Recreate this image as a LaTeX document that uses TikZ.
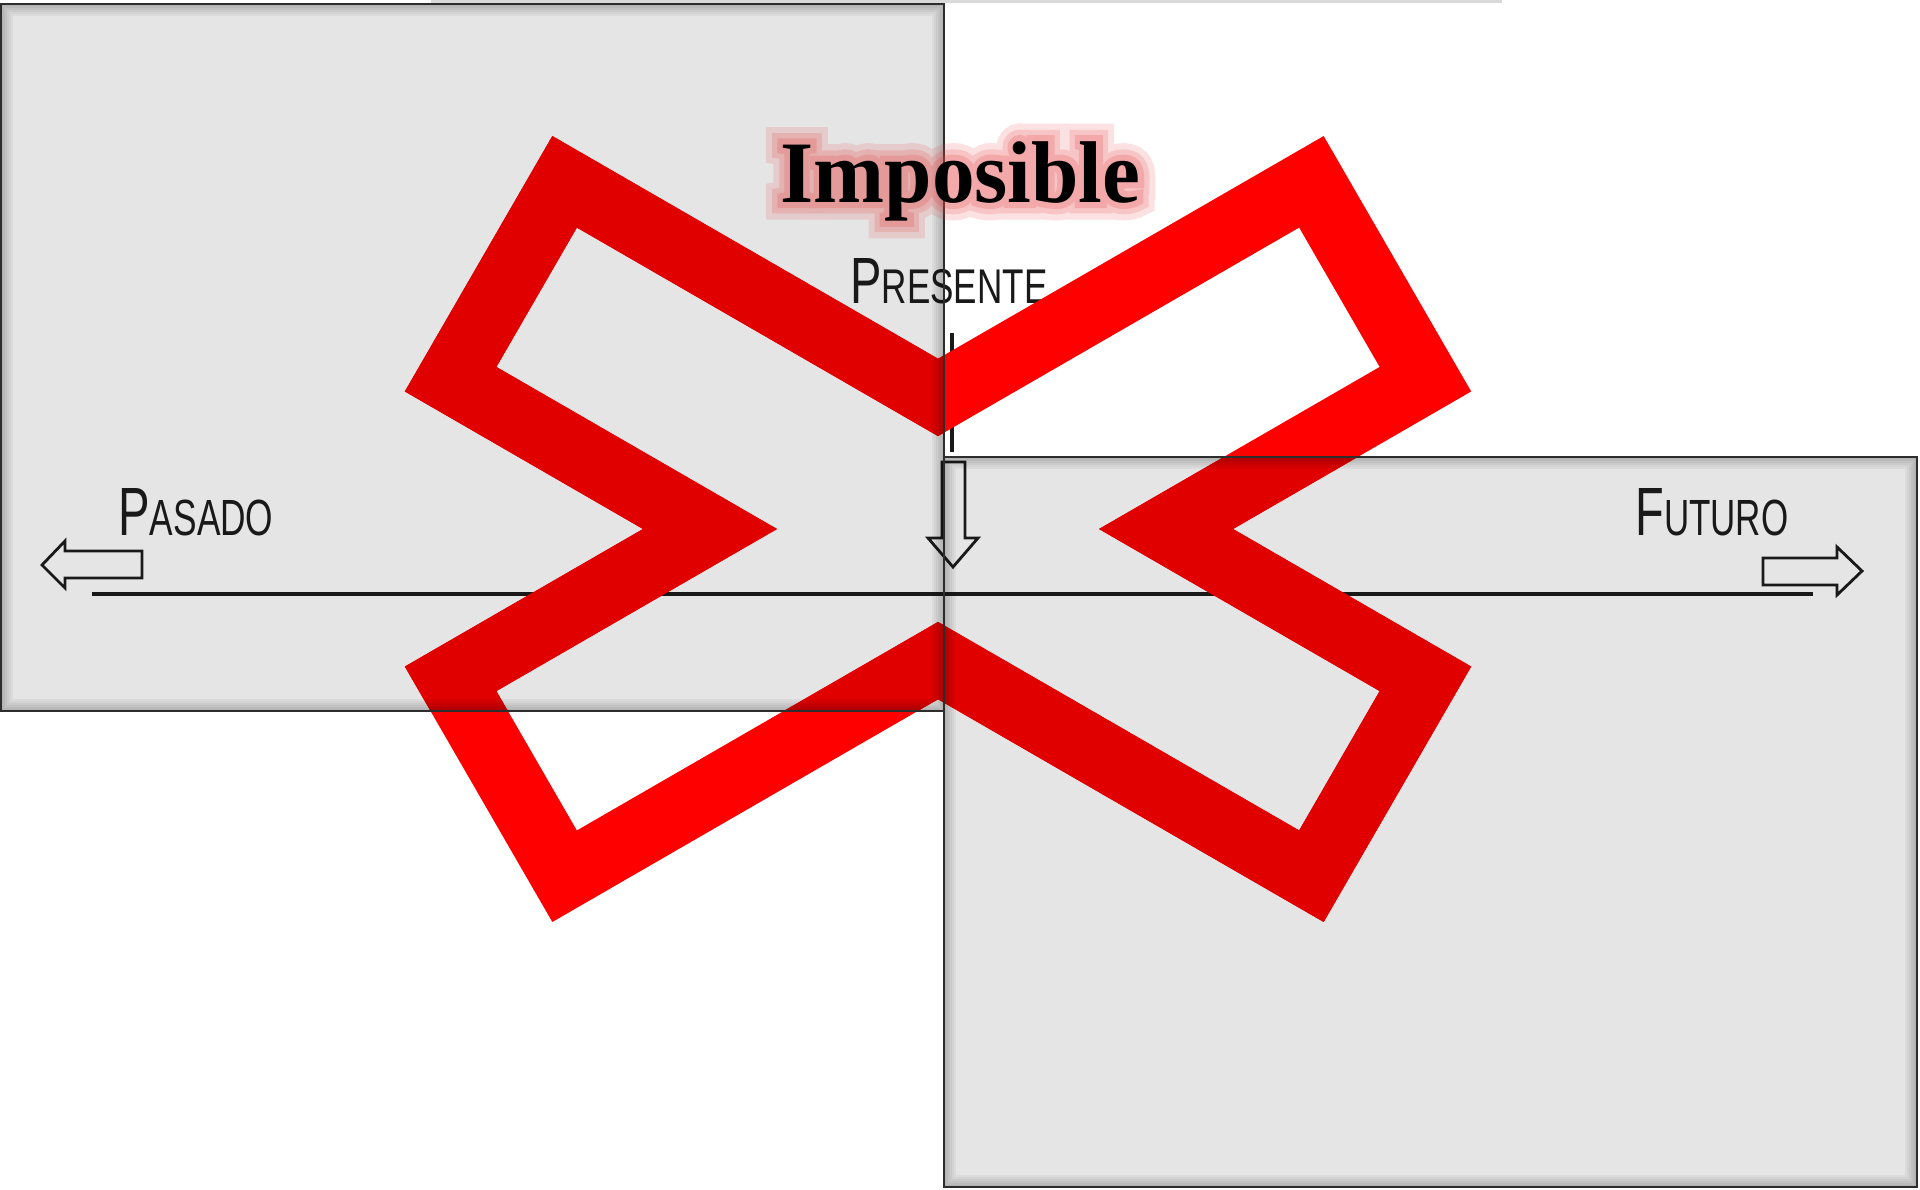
\documentclass[tikz,border=0pt]{standalone}
\usepackage{fontspec}
\setmainfont{Liberation Serif}
\newfontfamily\lblfont{Liberation Sans}
\newfontfamily\glowA[BoldFeatures={FakeBold=14}]{Liberation Serif}
\newfontfamily\glowB[BoldFeatures={FakeBold=26}]{Liberation Serif}
\newfontfamily\glowC[BoldFeatures={FakeBold=40}]{Liberation Serif}
\definecolor{panel}{RGB}{229,229,229}
\definecolor{xred}{RGB}{255,0,0}
\definecolor{xdark}{RGB}{224,0,0}
\definecolor{edge}{RGB}{45,45,45}
\definecolor{ink}{RGB}{25,25,25}
\definecolor{glowc}{RGB}{230,60,60}
\newcommand\impword[1]{\resizebox{180pt}{30.4pt}{#1\bfseries Imposible}}
\newcommand\lblsc[2]{{\lblfont\fontsize{20}{24}\selectfont #1\fontsize{14.9}{18}\selectfont #2}}
\newcommand\insetshadow[4]{%
  \foreach \i in {0,...,5}{%
    \pgfmathsetmacro\op{0.22-0.035*\i}%
    \draw[black,opacity=\op,line width=1pt] ({#1+1+2*\i},{#2+1+2*\i}) rectangle ({#3-1-2*\i},{#4-1-2*\i});}}
\begin{document}
\begin{tikzpicture}[x=0.5pt,y=-0.5pt,
  panelbox/.style={fill=panel},
  panelrim/.style={draw=edge,line width=1pt},
  xband/.style={line width=33.5pt,line join=miter,miter limit=10},
  outlinearrow/.style={draw=ink,line width=1.4pt,line join=miter},
  axisline/.style={draw=ink,line width=2.4pt},
  label/.style={inner sep=0pt,anchor=base west,text=ink},
  imptext/.style={inner sep=0pt,anchor=base west}]
\useasboundingbox (0,0) rectangle (1920,1189);
\fill[white] (0,0) rectangle (1920,1189);
% faint shadow at top
\fill[gray!30] (431,0) rectangle (1502,2.5);
% panels
\fill[panelbox] (1,4) rectangle (944,711);
\fill[panelbox] (944,457) rectangle (1917,1187);
% axis
\coordinate (axL) at (92,594);
\coordinate (axR) at (1813,594);
\draw[axisline] (axL) -- (axR);
% outline arrows
\draw[outlinearrow] (42,565) -- (65,541) -- (65,551) -- (142,551) -- (142,578) -- (65,578) -- (65,588) -- cycle;
\draw[outlinearrow] (1862,571) -- (1837,547) -- (1837,558) -- (1763,558) -- (1763,585) -- (1837,585) -- (1837,595) -- cycle;
\draw[outlinearrow] (953,567) -- (978,538) -- (965,538) -- (965,462) -- (942,462) -- (942,538) -- (928,538) -- cycle;
% tick
\coordinate (tkA) at (952,333);
\coordinate (tkB) at (952,452);
\draw[ink,line width=2.4pt] (tkA) -- (tkB);
% labels
\node[label] (pasado) at (118,535) {\resizebox{77.5pt}{23.5pt}{\lblsc{P}{ASADO}}};
\node[label] (futuro) at (1635,535) {\resizebox{76.5pt}{23.5pt}{\lblsc{F}{UTURO}}};
\node[label] (presente) at (850,303) {\resizebox{98.5pt}{22.5pt}{\lblsc{P}{RESENTE}}};
% red X
\coordinate (x1) at (564.6,181.8);
\coordinate (x2) at (938,397.4);
\coordinate (x3) at (1311.4,181.8);
\coordinate (x4) at (1425.4,379.2);
\coordinate (x5) at (1166,529);
\coordinate (x6) at (1425.4,678.8);
\coordinate (x7) at (1311.4,876.2);
\coordinate (x8) at (938,660.6);
\coordinate (x9) at (564.6,876.2);
\coordinate (x10) at (450.6,678.8);
\coordinate (x11) at (710,529);
\coordinate (x12) at (450.6,379.2);
\draw[xband,draw=xred] (x1) -- (x2) -- (x3) -- (x4) -- (x5) -- (x6) -- (x7) -- (x8) -- (x9) -- (x10) -- (x11) -- (x12) -- cycle;
\begin{scope}
  \clip (1,4) rectangle (944,711) (944,457) rectangle (1917,1187);
  \draw[xband,draw=xdark] (x1) -- (x2) -- (x3) -- (x4) -- (x5) -- (x6) -- (x7) -- (x8) -- (x9) -- (x10) -- (x11) -- (x12) -- cycle;
\end{scope}
% panel inner shadows and rims
\insetshadow{1}{4}{944}{711}
\insetshadow{944}{457}{1917}{1187}
\draw[panelrim] (1,4) rectangle (944,711);
\draw[panelrim] (944,457) rectangle (1917,1187);
% glow behind Imposible
\begin{scope}[transparency group,opacity=0.15]
  \node[imptext,text=glowc] (glow3) at (780,202) {\impword{\glowC}};
\end{scope}
\begin{scope}[transparency group,opacity=0.17]
  \node[imptext,text=glowc] (glow2) at (780,202) {\impword{\glowB}};
\end{scope}
\begin{scope}[transparency group,opacity=0.2]
  \node[imptext,text=glowc] (glow1) at (780,202) {\impword{\glowA}};
\end{scope}
\node[imptext,text=black] (imp) at (780,202) {\impword{}};
\end{tikzpicture}
\end{document}
